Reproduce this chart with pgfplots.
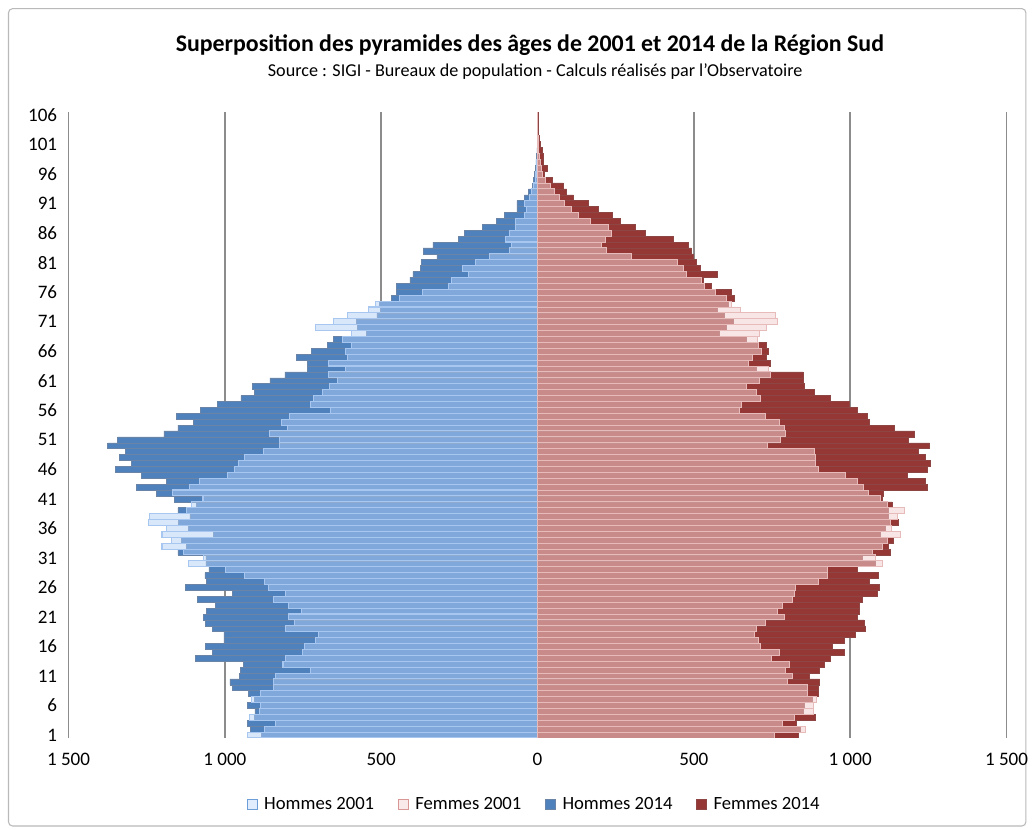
\documentclass[border=0pt]{standalone}
\usepackage{fontspec}
\setmainfont{Carlito}
\usepackage{pgfplots}
\usepackage{pgfplotstable}
\pgfplotsset{compat=1.18}
\definecolor{h14}{HTML}{4F81BD}
\definecolor{h14d}{HTML}{6A84A8}
\definecolor{f14}{HTML}{953735}
\definecolor{f14d}{HTML}{8E4644}
\definecolor{h01}{HTML}{B3D0F7}
\definecolor{h01b}{HTML}{A8C7F0}
\definecolor{h01l}{HTML}{6E9ED8}
\definecolor{f01}{HTML}{F2D0CF}
\definecolor{f01b}{HTML}{E6BBBA}
\definecolor{f01l}{HTML}{D99694}
\definecolor{gridc}{HTML}{8C8C8C}

\pgfplotstableread{
age h01 h14 f01 f14
1 929 882 757 834
2 874 918 856 840
3 838 929 783 828
4 922 905 821 887
5 888 904 882 849
6 886 928 884 852
7 915 905 892 880
8 886 926 863 898
9 844 975 863 898
10 844 984 799 902
11 838 953 815 870
12 726 951 792 902
13 814 940 805 916
14 806 1094 749 937
15 751 1041 775 980
16 745 1063 712 943
17 709 1003 707 980
18 701 1003 693 1017
19 806 1039 699 1049
20 776 1063 730 1044
21 797 1069 789 1022
22 756 1058 768 1030
23 797 1030 783 1028
24 844 1088 815 1038
25 806 975 821 1086
26 860 1126 826 1093
27 874 1058 900 1060
28 936 1064 927 1089
29 998 1051 927 1022
30 1117 1061 1104 1081
31 1067 1061 1081 1038
32 1133 1150 1070 1129
33 1201 1122 1102 1121
34 1170 1140 1118 1139
35 1201 1037 1160 1095
36 1188 1117 1132 1113
37 1245 1149 1129 1155
38 1240 1112 1150 1121
39 1124 1150 1174 1121
40 1107 1090 1118 1134
41 1070 1162 1097 1102
42 1167 1219 1057 1107
43 1114 1283 1044 1245
44 1081 1188 1022 1240
45 991 1266 985 1182
46 968 1349 900 1245
47 955 1300 890 1256
48 936 1337 890 1240
49 875 1318 887 1217
50 826 1375 736 1254
51 826 1343 778 1185
52 856 1195 792 1206
53 801 1150 789 1142
54 820 1100 773 1062
55 792 1155 730 1054
56 663 1078 645 1022
57 726 1024 651 996
58 716 949 714 937
59 689 905 699 884
60 666 913 667 852
61 641 856 709 849
62 669 808 746 849
63 614 737 739 699
64 669 737 675 743
65 608 771 688 730
66 614 724 717 738
67 594 671 707 730
68 624 654 702 669
69 595 547 709 580
70 709 575 732 605
71 652 580 768 626
72 608 514 762 596
73 542 503 648 574
74 517 506 620 610
75 440 467 603 630
76 368 451 568 621
77 284 451 535 555
78 275 408 523 529
79 221 399 476 576
80 240 375 467 521
81 199 371 449 507
82 154 322 300 497
83 91 366 219 492
84 84 335 205 481
85 102 253 216 435
86 91 234 237 343
87 69 176 226 314
88 71 132 170 263
89 42 105 130 240
90 36 66 110 194
91 42 66 85 162
92 25 42 70 115
93 18 29 55 93
94 12 16 40 83
95 8 14 25 48
96 5 10 15 21
97 3 6 12 30
98 2 5 8 17
99 1 3 6 19
100 1 2 4 14
101 1 1 3 8
102 0 1 2 5
103 0 1 1 3
104 0 0 1 2
105 0 0 0 1
106 0 1 0 2
}\pyr

\begin{document}
\begin{tikzpicture}
\path[use as bounding box] (-51.4pt,-69pt) rectangle (722.6pt,553.5pt);
\draw[gray!55, line width=0.8pt, rounded corners=3pt] (-45pt,-66pt) rectangle (718pt,547pt);
\begin{axis}[
  at={(0,0)}, anchor=south west,
  scale only axis, width=703.5pt, height=469.4pt,
  xmin=-1500, xmax=1500, ymin=0.5, ymax=106.5,
  axis line style={draw=none},
  major tick length=0pt,
  xtick={-1500,-1000,-500,0,500,1000,1500},
  xticklabels={1~500,1~000,500,0,500,1~000,1~500},
  ytick={1,6,...,106},
  /pgf/number format/assume math mode=true,
  tick label style={font=\fontsize{14.3}{16}\selectfont},
  xticklabel style={yshift=-8pt},
  yticklabel style={xshift=-5pt},
  xmajorgrids,
  grid style={gridc, line width=1.1pt},
  legend columns=4,
  legend style={at={(axis description cs:0.497,-0.1065)}, anchor=center, draw=none,
    font=\fontsize{14}{17}\selectfont,
    /tikz/every even column/.append style={column sep=16pt}},
  legend image code/.code={\path[draw=none, fill=none] (0pt,-3.6pt) rectangle (10.5pt,3.6pt);\draw[#1, line width=0.7pt] (0pt,-3.6pt) rectangle (7.2pt,3.6pt);},
]
\addlegendimage{fill=h01!40!white, draw=h01l}
\addlegendentry{Hommes 2001}
\addlegendimage{fill=f01!45!white, draw=f01l}
\addlegendentry{Femmes 2001}
\addlegendimage{fill=h14, draw=h14d}
\addlegendentry{Hommes 2014}
\addlegendimage{fill=f14, draw=f14d}
\addlegendentry{Femmes 2014}

\addplot[xbar, bar width=1, bar shift=0pt, fill=h14, draw=h14d, line width=0.4pt, forget plot]
  table[x expr=-\thisrow{h14}, y=age]{\pyr};
\addplot[xbar, bar width=1, bar shift=0pt, fill=f14, draw=f14d, line width=0.4pt, forget plot]
  table[x=f14, y=age]{\pyr};
\addplot[xbar, bar width=1, bar shift=0pt, fill=h01, fill opacity=0.5, draw=h01b, line width=0.8pt, forget plot]
  table[x expr=-\thisrow{h01}, y=age]{\pyr};
\addplot[xbar, bar width=1, bar shift=0pt, fill=f01, fill opacity=0.55, draw=f01b, line width=0.7pt, forget plot]
  table[x=f01, y=age]{\pyr};
\end{axis}
\node[font=\bfseries\fontsize{17.9}{21}\selectfont] at (346pt,519.75pt) {Superposition des pyramides des âges de 2001 et 2014 de la Région Sud};
\node[font=\fontsize{13.6}{16}\selectfont] at (350pt,499.5pt) {Source : SIGI - Bureaux de population - Calculs réalisés par l'Observatoire};
\end{tikzpicture}
\end{document}
